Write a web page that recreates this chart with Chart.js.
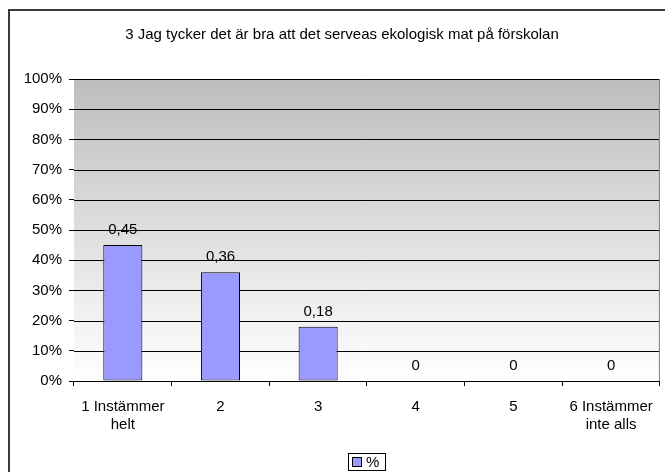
<!DOCTYPE html>
<html>
<head>
<meta charset="utf-8">
<script src="https://cdn.jsdelivr.net/npm/chart.js@4"></script>
<style>
    html, body { margin: 0; padding: 0; background: #fff; }
    #wrap { width: 665px; height: 472px; }
</style>
</head>
<body>
<div id="wrap"><canvas id="grafico" width="665" height="472"></canvas></div>
<script>
const titulo = "3 Jag tycker det är bra att det serveas ekologisk mat på förskolan";
const kategorier = [["1 Instämmer", "helt"], "2", "3", "4", "5", ["6 Instämmer", "inte alls"]];
const serieNamn = "%";
const andelar = [0.45, 0.36, 0.18, 0, 0, 0];
const yMin = 0;
const yMax = 1;
const ySteg = 0.1;

const fuente = "'Liberation Sans', Arial, sans-serif";
const barColor = "#9999ff";

function formatearValor(v) {
    return String(v).replace(".", ",");
}

// ram runt diagrammet (bara vänster och övre kant syns) + rubrik
const ramPlugin = {
    id: "ram",
    beforeDraw(chart) {
        const ctx = chart.ctx;
        ctx.save();
        ctx.fillStyle = "#fff";
        ctx.fillRect(0, 0, chart.width, chart.height);
        ctx.fillStyle = "#3a3a3a";
        ctx.fillRect(8, 9, 2, chart.height - 9);
        ctx.fillRect(8, 9, chart.width - 8, 2);
        ctx.fillStyle = "#000";
        ctx.font = "15px " + fuente;
        ctx.textAlign = "center";
        ctx.textBaseline = "middle";
        ctx.fillText(titulo, 342, 35);
        ctx.restore();
    }
};

// grå gradient i ritytan
const bakgrundPlugin = {
    id: "bakgrund",
    beforeDatasetsDraw(chart) {
        const a = chart.chartArea;
        const ctx = chart.ctx;
        ctx.save();
        const g = ctx.createLinearGradient(0, a.top, 0, a.bottom);
        g.addColorStop(0, "#bdbdbd");
        g.addColorStop(1, "#ffffff");
        ctx.fillStyle = g;
        ctx.fillRect(a.left, a.top, a.right - a.left, a.bottom - a.top);
        // rutnät ovanpå gradienten
        const y = chart.scales.y;
        ctx.strokeStyle = "#000";
        ctx.lineWidth = 1;
        y.ticks.forEach((t) => {
            const py = Math.round(y.getPixelForValue(t.value)) + 0.5;
            ctx.beginPath();
            ctx.moveTo(a.left, py);
            ctx.lineTo(a.right, py);
            ctx.stroke();
        });
        ctx.strokeStyle = "#808080";
        ctx.beginPath();
        ctx.moveTo(a.right - 0.5, a.top);
        ctx.lineTo(a.right - 0.5, a.bottom);
        ctx.stroke();
        ctx.restore();
    }
};

const etikettPlugin = {
    id: "etiketter",
    afterDatasetsDraw(chart) {
        const ctx = chart.ctx;
        const meta = chart.getDatasetMeta(0);
        ctx.save();
        ctx.font = "15px " + fuente;
        ctx.fillStyle = "#000";
        ctx.textAlign = "center";
        ctx.textBaseline = "middle";
        meta.data.forEach((bar, i) => {
            ctx.fillText(formatearValor(andelar[i]), bar.x, bar.y - 15);
        });
        ctx.restore();
    }
};

// förklaring med ram, placerad som i originalet
const forklaringPlugin = {
    id: "forklaring",
    afterDraw(chart) {
        const ctx = chart.ctx;
        ctx.save();
        ctx.font = "15px " + fuente;
        const tw = ctx.measureText(serieNamn).width;
        const left = 348, top = 453, h = 17;
        const w = 4 + 9 + 5 + tw + 6;
        ctx.strokeStyle = "#000";
        ctx.lineWidth = 1;
        ctx.strokeRect(left + 0.5, top + 0.5, Math.round(w), h);
        ctx.fillStyle = barColor;
        ctx.fillRect(left + 4.5, top + 4.5, 9, 9);
        ctx.strokeRect(left + 4.5, top + 4.5, 9, 9);
        ctx.fillStyle = "#000";
        ctx.textAlign = "left";
        ctx.textBaseline = "middle";
        ctx.fillText(serieNamn, left + 18, top + 9.5);
        ctx.restore();
    }
};

new Chart(document.getElementById("grafico").getContext("2d"), {
    type: "bar",
    data: {
        labels: kategorier,
        datasets: [{
            label: serieNamn,
            data: andelar,
            backgroundColor: barColor,
            borderColor: "#000",
            borderWidth: 1,
            borderSkipped: false,
            categoryPercentage: 1,
            barPercentage: 0.4
        }]
    },
    options: {
        responsive: false,
        animation: false,
        devicePixelRatio: 1,
        layout: { padding: { left: 0, right: 3, top: 79, bottom: 0 } },
        plugins: {
            title: { display: false },
            legend: { display: false },
            tooltip: { enabled: false }
        },
        scales: {
            x: {
                offset: true,
                grid: {
                    offset: true,
                    drawOnChartArea: false,
                    drawTicks: true,
                    tickLength: 5,
                    color: "#000"
                },
                border: { color: "#000", width: 1 },
                ticks: {
                    color: "#000",
                    font: { family: fuente, size: 15, lineHeight: 1.2 },
                    padding: 12,
                    maxRotation: 0,
                    autoSkip: false
                },
                afterFit(s) { s.height = 91; }
            },
            y: {
                min: yMin,
                max: yMax,
                grid: {
                    drawOnChartArea: false,
                    drawTicks: true,
                    tickLength: 5,
                    color: "#000"
                },
                border: { color: "#000", width: 1 },
                ticks: {
                    stepSize: ySteg,
                    color: "#000",
                    font: { family: fuente, size: 15 },
                    padding: 7,
                    callback: (v) => Math.round(v * 100) + "%"
                },
                afterFit(s) { s.width = 74; }
            }
        }
    },
    plugins: [ramPlugin, bakgrundPlugin, etikettPlugin, forklaringPlugin]
});
</script>
</body>
</html>
